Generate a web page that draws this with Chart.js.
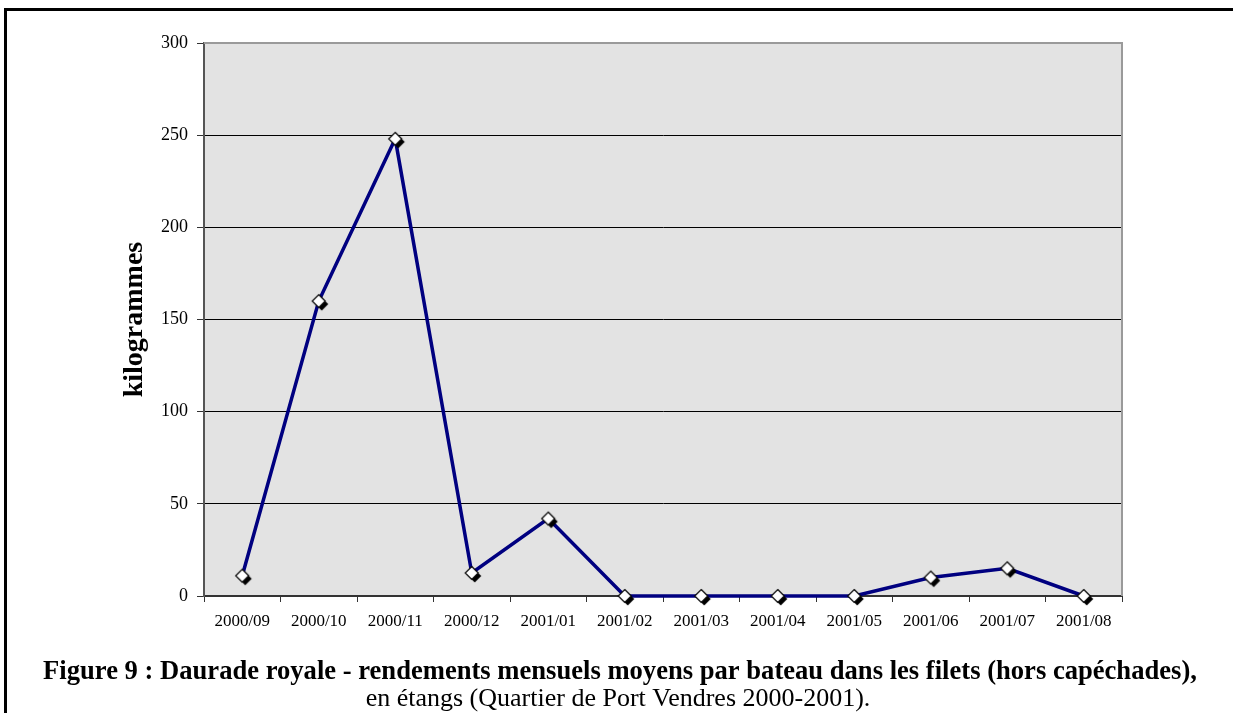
<!DOCTYPE html>
<html>
<head>
<meta charset="utf-8">
<script src="https://cdn.jsdelivr.net/npm/chart.js@4"></script>
<style>
  html, body { margin: 0; padding: 0; background: #fff; }
  #wrap { width: 1233px; height: 713px; }
</style>
</head>
<body>
<div id="wrap"><canvas id="chartDaurade" width="1233" height="713"></canvas></div>
<script>
const months = ['2000/09', '2000/10', '2000/11', '2000/12', '2001/01', '2001/02',
                '2001/03', '2001/04', '2001/05', '2001/06', '2001/07', '2001/08'];
const rendements = [11, 160, 248, 12.5, 42, 0, 0, 0, 0, 10, 15, 0];
const yTicks = [0, 50, 100, 150, 200, 250, 300];
const yTitle = 'kilogrammes';
const captionBold = 'Figure 9 : Daurade royale - rendements mensuels moyens par bateau dans les filets (hors capéchades),';
const captionPlain = 'en étangs (Quartier de Port Vendres 2000-2001).';

const serif = '"Liberation Serif", "Times New Roman", serif';

// white diamond with a black drop shadow, like the old Excel marker
function makeMarker() {
    const c = document.createElement('canvas');
    c.width = 28; c.height = 28;
    const g = c.getContext('2d');
    const diamond = (cx, cy, r) => {
        g.beginPath();
        g.moveTo(cx, cy - r); g.lineTo(cx + r, cy); g.lineTo(cx, cy + r); g.lineTo(cx - r, cy);
        g.closePath();
    };
    diamond(17, 17, 6.5);
    g.fillStyle = '#000'; g.fill();
    diamond(14, 14, 6.5);
    g.fillStyle = '#fff'; g.fill();
    g.lineWidth = 1.2; g.strokeStyle = '#000'; g.stroke();
    return c;
}

const framePlugin = {
    id: 'frame',
    beforeDraw(chart) {
        const { ctx, chartArea: a } = chart;
        ctx.save();
        ctx.fillStyle = '#e3e3e3';
        ctx.fillRect(a.left, a.top, a.right - a.left, a.bottom - a.top);
        ctx.restore();
    },
    afterDatasetsDraw(chart) {
        const { ctx, chartArea: a } = chart;
        ctx.save();
        ctx.strokeStyle = '#9a9a9a';
        ctx.lineWidth = 2;
        ctx.beginPath();
        ctx.moveTo(a.left, a.top); ctx.lineTo(a.right, a.top); ctx.lineTo(a.right, a.bottom);
        ctx.stroke();
        ctx.restore();
    },
    afterDraw(chart) {
        const { ctx } = chart;
        ctx.save();
        // page frame (top and left edges visible)
        ctx.fillStyle = '#000';
        ctx.fillRect(4, 8, 1229, 3);
        ctx.fillRect(4, 8, 3, 705);
        // caption
        ctx.textAlign = 'center';
        ctx.textBaseline = 'alphabetic';
        ctx.font = 'bold 26.6px ' + serif;
        ctx.fillText(captionBold, 620, 679);
        ctx.font = '26px ' + serif;
        ctx.fillText(captionPlain, 618, 706);
        ctx.restore();
    }
};

new Chart(document.getElementById('chartDaurade'), {
    type: 'line',
    data: {
        labels: months,
        datasets: [{
            data: rendements,
            borderColor: '#000080',
            borderWidth: 3.5,
            tension: 0,
            pointStyle: makeMarker(),
            pointRadius: 7,
            clip: false
        }]
    },
    options: {
        responsive: false,
        animation: false,
        layout: { padding: { left: 0, right: 111, top: 43, bottom: 0 } },
        plugins: {
            legend: { display: false },
            tooltip: { enabled: false }
        },
        scales: {
            x: {
                offset: true,
                grid: { offset: true, drawOnChartArea: false, tickLength: 6, color: '#333' },
                border: { color: '#333', width: 2 },
                ticks: { color: '#000', font: { family: serif, size: 17 }, padding: 9, maxRotation: 0, autoSkip: false },
                afterFit: axis => { axis.height = 117; }
            },
            y: {
                min: 0,
                max: 300,
                afterBuildTicks: axis => { axis.ticks = yTicks.map(v => ({ value: v })); },
                afterFit: axis => { axis.width = 204; },
                border: { color: '#555', width: 2 },
                grid: {
                    color: c => (c.tick.value === 0 || c.tick.value === 300) ? 'rgba(0,0,0,0)' : '#000',
                    tickColor: '#333',
                    tickLength: 7,
                    lineWidth: 1
                },
                ticks: { color: '#000', font: { family: serif, size: 18 }, padding: 9 },
                title: {
                    display: true,
                    text: yTitle,
                    color: '#000',
                    font: { family: serif, size: 28, weight: 'bold' },
                    padding: { top: 118, bottom: 0 }
                }
            }
        }
    },
    plugins: [framePlugin]
});
</script>
</body>
</html>
